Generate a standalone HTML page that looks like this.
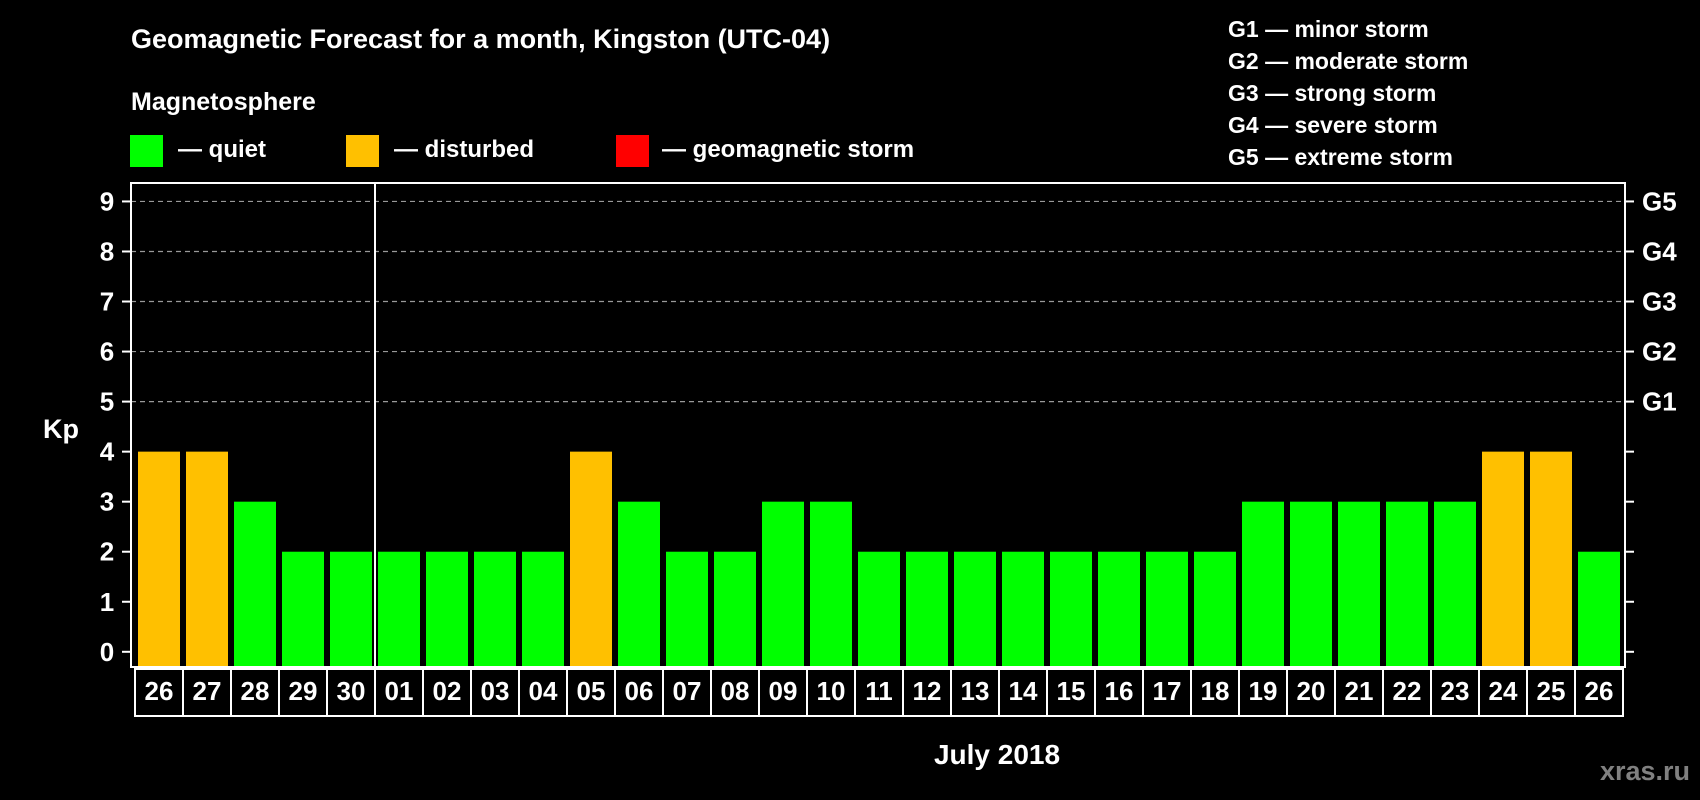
<!DOCTYPE html>
<html><head><meta charset="utf-8"><style>
html,body{margin:0;padding:0;background:#000;}
svg{display:block;font-family:"Liberation Sans",Arial,sans-serif;font-weight:bold;}
</style></head><body>
<svg id="chart" width="1700" height="800" viewBox="0 0 1700 800">
<rect width="1700" height="800" fill="#000"/>
<text x="131" y="48" fill="#fff" font-size="27">Geomagnetic Forecast for a month, Kingston (UTC-04)</text>
<text x="131" y="110" fill="#fff" font-size="25">Magnetosphere</text>
<g><rect x="130" y="135" width="33" height="32" fill="#00ff00"/><text x="178" y="157" fill="#fff" font-size="24">— quiet</text></g>
<g><rect x="346" y="135" width="33" height="32" fill="#ffc000"/><text x="394" y="157" fill="#fff" font-size="24">— disturbed</text></g>
<g><rect x="616" y="135" width="33" height="32" fill="#ff0000"/><text x="662" y="157" fill="#fff" font-size="24">— geomagnetic storm</text></g>
<g fill="#fff" font-size="23">
<text x="1228" y="37">G1 — minor storm</text>
<text x="1228" y="69">G2 — moderate storm</text>
<text x="1228" y="101">G3 — strong storm</text>
<text x="1228" y="133">G4 — severe storm</text>
<text x="1228" y="165">G5 — extreme storm</text>
</g>
<text x="43" y="438" fill="#fff" font-size="27">Kp</text>
<text x="997" y="764" fill="#fff" font-size="28" text-anchor="middle">July 2018</text>
<text x="1690" y="780" fill="#808080" font-size="27" text-anchor="end">xras.ru</text>
<g id="grid"></g><g id="bars"></g><g id="axes"></g><g id="labels"></g>
</svg>
<script>
const days = ["26","27","28","29","30","01","02","03","04","05","06","07","08","09","10","11","12","13","14","15","16","17","18","19","20","21","22","23","24","25","26"];
const kpValues = [4,4,3,2,2,2,2,2,2,4,3,2,2,3,3,2,2,2,2,2,2,2,2,3,3,3,3,3,4,4,2];
const yTicks = [0,1,2,3,4,5,6,7,8,9];
const gLabels = ["","","","","","G1","G2","G3","G4","G5"];

const NS="http://www.w3.org/2000/svg";
const plotL=131, plotR=1625, plotT=183, plotB=667;
const y0=651.8, unit=50.04;
function yScale(v){return y0 - v*unit;}
const slot0=135, slotW=48;
function xScale(i){return slot0 + i*slotW;}
function mk(tag, attrs, parent){const e=document.createElementNS(NS,tag);for(const k in attrs)e.setAttribute(k,attrs[k]);parent.appendChild(e);return e;}
const grid=document.getElementById('grid'), bars=document.getElementById('bars'), axes=document.getElementById('axes'), labels=document.getElementById('labels');

yTicks.forEach((t,i)=>{
  const y=yScale(t);
  if(t>=5){
    const g=mk('line',{x1:plotL,x2:plotR,y1:y,y2:y,stroke:'#999','stroke-width':1.2,'stroke-dasharray':'5,4'},grid);
    
    
  }
  const lt=mk('line',{x1:122,x2:plotL,y1:y,y2:y,stroke:'#fff','stroke-width':2},axes);
  
  
  const rt=mk('line',{x1:plotR,x2:1634,y1:y,y2:y,stroke:'#fff','stroke-width':2},axes);
  
  
  const tl=mk('text',{x:107,y:y+9,fill:'#fff','font-size':26,'text-anchor':'middle'},labels);
  tl.textContent=t;
  
  
  if(gLabels[i]){
    const gl=mk('text',{x:1642,y:y+9,fill:'#fff','font-size':26},labels);
    gl.textContent=gLabels[i];
    
    
  }
});

kpValues.forEach((v,i)=>{
  const col = v>=5 ? '#ff0000' : (v>=4 ? '#ffc000' : '#00ff00');
  const top=yScale(v);
  const b=mk('rect',{x:xScale(i)+3,y:top,width:42,height:plotB-top,fill:col},bars);
  
  
});

const frame=mk('rect',{x:plotL,y:plotT,width:plotR-plotL,height:plotB-plotT,fill:'none',stroke:'#fff','stroke-width':2},axes);



const boxT=669, boxB=716;
const box=mk('rect',{x:slot0,y:boxT,width:days.length*slotW,height:boxB-boxT,fill:'none',stroke:'#fff','stroke-width':2},axes);


days.forEach((d,i)=>{
  if(i>0){
    const dv=mk('line',{x1:xScale(i),x2:xScale(i),y1:boxT,y2:boxB,stroke:'#fff','stroke-width':2},axes);
    
    
  }
  const t=mk('text',{x:xScale(i)+slotW/2,y:700,fill:'#fff','font-size':26,'text-anchor':'middle'},labels);
  t.textContent=d;
  
  
});
const sepIdx=days.indexOf("01");
const sep=mk('line',{x1:xScale(sepIdx),x2:xScale(sepIdx),y1:plotT,y2:boxB,stroke:'#fff','stroke-width':2},axes);


</script>
</body></html>
